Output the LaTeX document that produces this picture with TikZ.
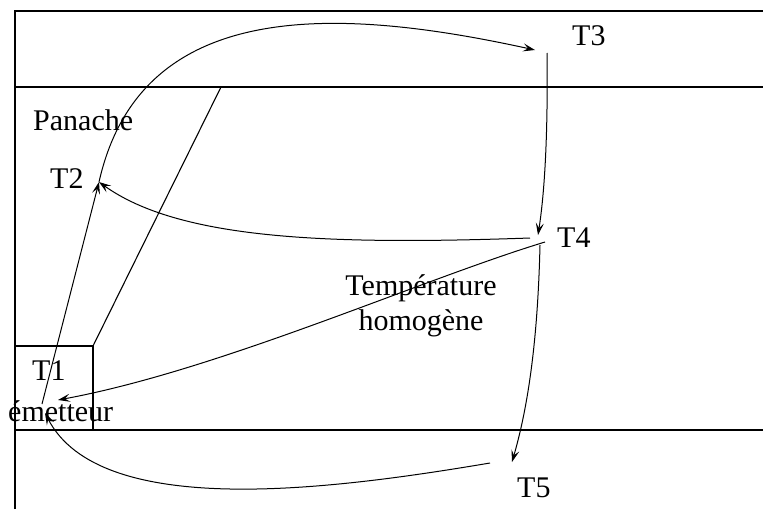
\documentclass[tikz,border=0pt]{standalone}
\usepackage{fontspec}
\setmainfont{Liberation Serif}
\usetikzlibrary{arrows.meta}
\begin{document}
\begin{tikzpicture}[x=1pt,y=-1pt,
  frame/.style={line width=1.1pt},
  conn/.style={line width=1pt},
  arr/.style={conn,-{Stealth[length=12pt,width=8pt,inset=5pt]}},
  lbl/.style={inner sep=0pt,anchor=base west,font=\fontsize{30}{34}\selectfont}]
\useasboundingbox (0,0) rectangle (763,509);
% frame
\coordinate (ftl) at (15,11);
\coordinate (fbl) at (15,509);
\coordinate (ftr) at (763,11);
\coordinate (l2l) at (15,87);
\coordinate (l2r) at (763,87);
\coordinate (l3l) at (15,430);
\coordinate (l3r) at (763,430);
\draw[frame] (fbl) -- (ftl) -- (ftr);
\draw[frame] (l2l) -- (l2r);
\draw[frame] (l3l) -- (l3r);
% emitter box and plume
\coordinate (ebtl) at (15,346);
\coordinate (ebtr) at (93,346);
\coordinate (ebbr) at (93,430);
\coordinate (pltop) at (221,87);
\draw[frame] (ebtl) -- (ebtr) -- (ebbr);
\draw[frame] (ebtr) -- (pltop);
% labels
\node[lbl] (panache) at (33,130) {Panache};
\node[lbl] (t2) at (50,188) {T2};
\node[lbl] (t3) at (572,45) {T3};
\node[lbl] (t4) at (557,247) {T4};
\node[lbl] (t1) at (32,380) {T1};
\node[lbl] (em) at (8,421) {émetteur};
\node[lbl] (t5) at (517,497) {T5};
\node[lbl,anchor=base] (temp) at (421,295) {Température};
\node[lbl,anchor=base] (homo) at (421,330) {homogène};
% points
\coordinate (p1) at (42,404);
\coordinate (p1a) at (58,400);
\coordinate (p1b) at (45,413);
\coordinate (p2) at (99,182);
\coordinate (p3in) at (535,50);
\coordinate (p3out) at (547,53);
\coordinate (p4in) at (538,235);
\coordinate (p4a) at (530,238);
\coordinate (p4b) at (545,242);
\coordinate (p4c) at (540,245);
\coordinate (p5in) at (512,462);
\coordinate (p5out) at (490,463);
% connectors
\draw[arr] (p1) -- (p2);
\draw[arr] (p2) .. controls (140,0) and (330,5) .. (p3in);
\draw[arr] (p3out) .. controls (548,130) and (545,190) .. (p4in);
\draw[arr] (p4a) .. controls (330,245) and (180,240) .. (p2);
\draw[arr] (p4b) .. controls (420,280) and (220,370) .. (p1a);
\draw[arr] (p4c) .. controls (538,330) and (530,400) .. (p5in);
\draw[arr] (p5out) .. controls (330,490) and (100,520) .. (p1b);
\end{tikzpicture}
\end{document}
